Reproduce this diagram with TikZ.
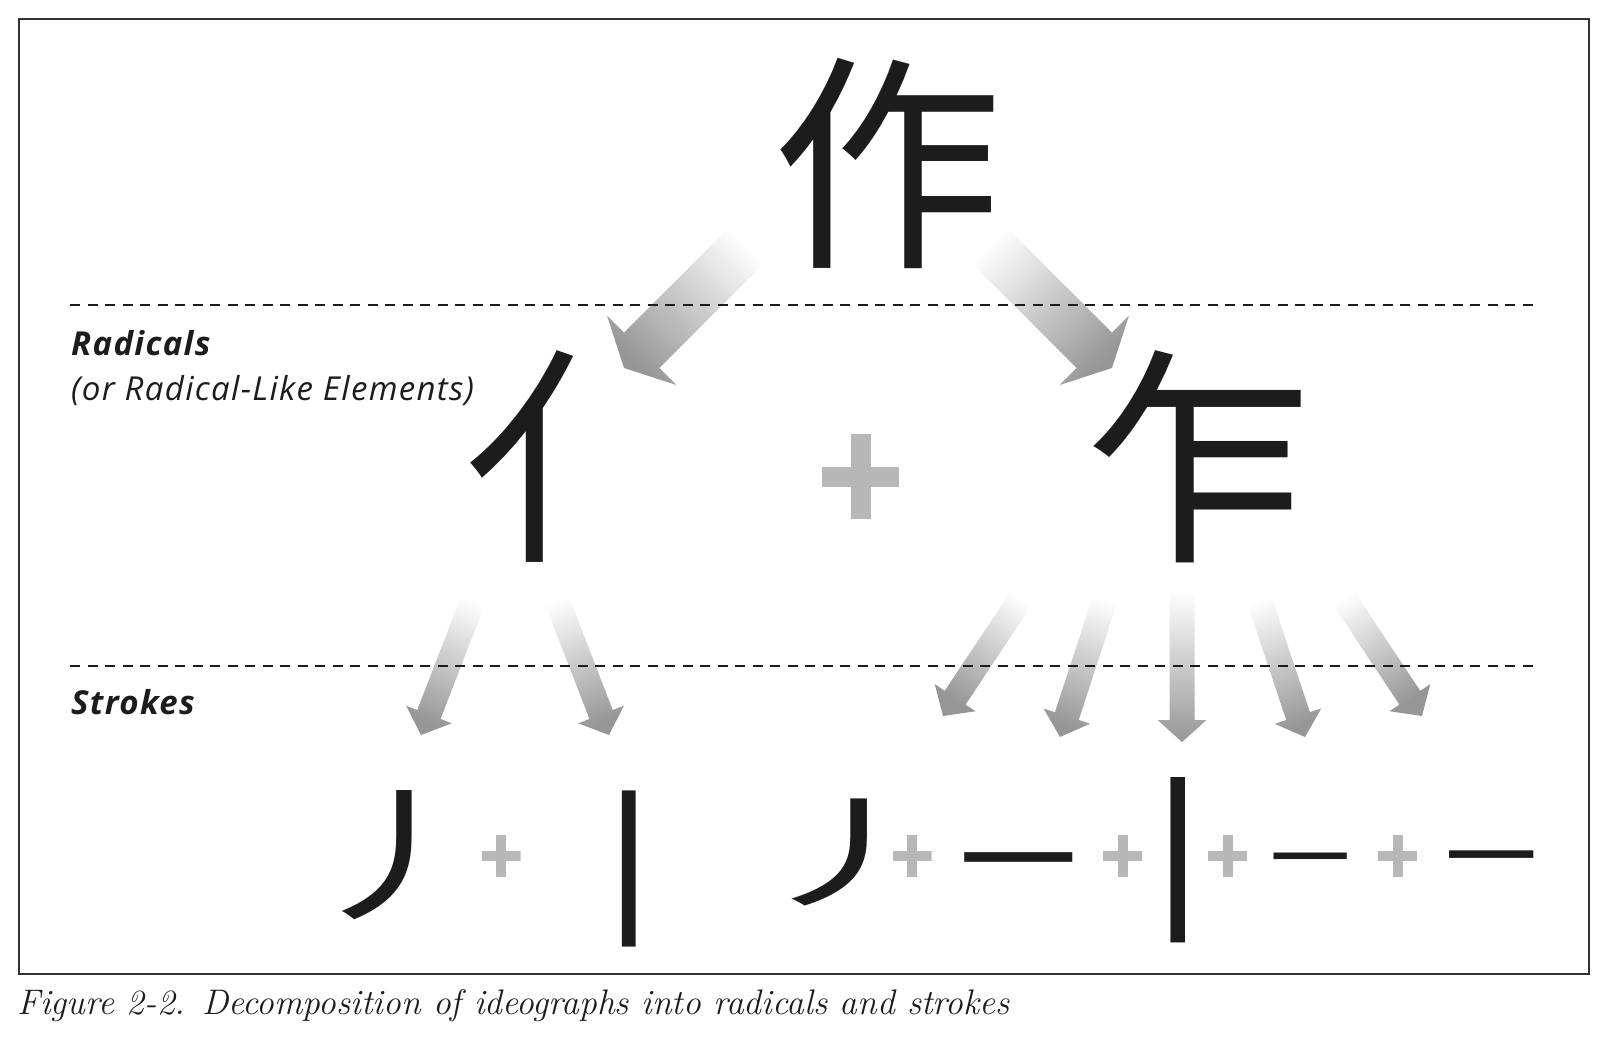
\documentclass[tikz,border=0pt]{standalone}
\usepackage{fontspec}
\setsansfont{Open Sans}[LetterSpace=4]
\newfontfamily\cjk{Noto Sans CJK SC}
\usepackage{tikz}
\usetikzlibrary{calc}

\definecolor{ink}{RGB}{28,28,28}
\definecolor{framegray}{RGB}{50,50,50}
\definecolor{plusgray}{RGB}{183,183,183}
\definecolor{arrowgray}{RGB}{150,150,150}

% fat shaded arrow: tail, tip, shaft half width, head half width, head length
\newcommand{\fatarrow}[5]{%
  \coordinate (fa-b) at ($(#2)!#5!(#1)$);
  \pgfmathanglebetweenpoints{\pgfpointanchor{#1}{center}}{\pgfpointanchor{#2}{center}}%
  \pgfmathsetmacro{\faang}{\pgfmathresult+90}%
  \shade[top color=white, bottom color=arrowgray, shading angle=\faang]
    ($(#1)!#3!90:(#2)$) -- ($(fa-b)!#3!90:(#2)$) -- ($(fa-b)!#4!90:(#2)$) -- (#2)
    -- ($(fa-b)!#4!-90:(#2)$) -- ($(fa-b)!#3!-90:(#2)$) -- ($(#1)!#3!-90:(#2)$) -- cycle;
}

\begin{document}
\begin{tikzpicture}[x=1pt,y=-1pt,
    hanzi/.style={font=\cjk\fontsize{#1}{#1}\selectfont, text=ink, inner sep=0pt},
    lbl/.style={font=\sffamily\fontsize{33}{38}\selectfont\itshape, text=ink, inner sep=0pt, anchor=base west},
    plussign/.style n args={3}{minimum width=#1, minimum height=#2, inner sep=0pt,
      path picture={
        \fill[plusgray] ([xshift=-#3]path picture bounding box.north) rectangle ([xshift=#3]path picture bounding box.south);
        \fill[plusgray] ([yshift=-#3]path picture bounding box.west) rectangle ([yshift=#3]path picture bounding box.east);}},
    sepline/.style={draw=ink, line width=2.2pt, dash pattern=on 10pt off 7.5pt},
    frame/.style={draw=framegray, line width=2pt}]
  \useasboundingbox (0,0) rectangle (1610,1060);
  \draw[frame] (18.5,18.5) rectangle (1589,973.5);

  % arrows
  \coordinate (l1t) at (754,238);  \coordinate (l1h) at (624,368);
  \coordinate (r1t) at (982,238);  \coordinate (r1h) at (1112,368);
  \coordinate (a1t) at (477,590);  \coordinate (a1h) at (421,735);
  \coordinate (a2t) at (553,590);  \coordinate (a2h) at (609,735);
  \coordinate (b1t) at (1028,588); \coordinate (b1h) at (943,716);
  \coordinate (b2t) at (1108,590); \coordinate (b2h) at (1060,737);
  \coordinate (b3t) at (1182,590); \coordinate (b3h) at (1182,742);
  \coordinate (b4t) at (1256,590); \coordinate (b4h) at (1305,737);
  \coordinate (b5t) at (1337,588); \coordinate (b5h) at (1422,716);
  \fatarrow{l1t}{l1h}{25pt}{49pt}{25pt}
  \fatarrow{r1t}{r1h}{25pt}{49pt}{25pt}
  \foreach \a in {a1,a2,b1,b2,b3,b4,b5}
    {\fatarrow{\a t}{\a h}{12.5pt}{24.5pt}{22pt}}

  \draw[sepline] (70,305) -- (1540,305);
  \draw[sepline] (70,666) -- (1540,666);

  \node[lbl] (rad)  at (71,355) {\bfseries Radicals};
  \node[lbl] (rad2) at (71,400) {(or Radical-Like Elements)};
  \node[lbl] (str)  at (71,714) {\bfseries Strokes};

  % characters
  \node[hanzi=230] (zuo) at (887,163) {作};
  \node[hanzi=230] (ren) at (578,457) {亻};
  \node[hanzi=230] (zha) at (1199,457) {乍};
  \node[plussign={77pt}{85pt}{10pt}] (p0) at (860.5,476.5) {};

  % strokes
  \node[hanzi=146] (s1) at (395,855)  {\scalebox{1.3}[1]{丿}};
  \node[plussign={39pt}{42pt}{5pt}] (p1) at (501,856) {};
  \node[hanzi=170] (s2) at (629,869)  {丨};
  \node[hanzi=121] (s3) at (849,852)  {\scalebox{1.7}[1]{丿}};
  \node[plussign={39pt}{42pt}{5pt}] (p2) at (912,856) {};
  \node[hanzi=118] (s4) at (1018,878) {一};
  \node[plussign={39pt}{42pt}{5pt}] (p3) at (1122.5,856) {};
  \node[hanzi=180] (s5) at (1178,860) {丨};
  \node[plussign={39pt}{42pt}{5pt}] (p4) at (1227.5,856) {};
  \node[hanzi=80]  (s6) at (1310,870) {一};
  \node[plussign={39pt}{42pt}{5pt}] (p5) at (1397.5,856) {};
  \node[hanzi=92]  (s7) at (1491,871) {一};

  \node[anchor=base west, inner sep=0pt, text=ink, font=\fontsize{35.5}{40}\selectfont\itshape] (cap)
    at (17.5,1014) {Figure 2-2. Decomposition of ideographs into radicals and strokes};
\end{tikzpicture}
\end{document}
